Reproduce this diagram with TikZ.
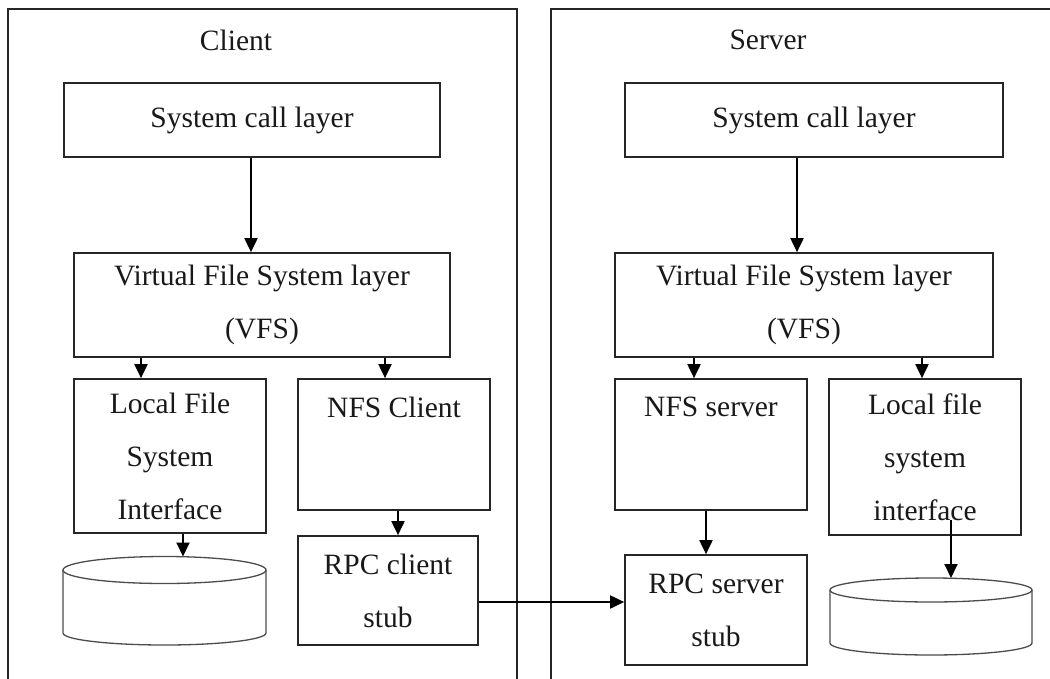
\documentclass[tikz,border=0pt]{standalone}
\usepackage{fontspec}
\setmainfont{Liberation Serif}
\usetikzlibrary{arrows.meta}
\begin{document}
\begin{tikzpicture}[x=1pt,y=-1pt,
  txt/.style={font=\fontsize{29.5}{53}\selectfont, text=black!90},
  box/.style={draw=black!85, line width=1.7pt, inner sep=0pt, align=center, txt},
  arr/.style={draw=black, line width=1.9pt, -{Triangle[length=14pt,width=13pt]}},
  frame/.style={draw=black!85, line width=1.7pt},
  cyl/.style={draw=black!70, line width=1.3pt}]
\clip (0,0) rectangle (1050,678);
\fill[white] (0,0) rectangle (1050,678);
% frames
\draw[frame] (8,700) -- (8,9) -- (517,9) -- (517,700);
\draw[frame] (551,700) -- (551,9) -- (1060,9);
\node[txt] (clientlbl) at (236,40) {Client};
\node[txt] (serverlbl) at (768,40) {Server};
% client boxes
\node[box, minimum width=376pt, minimum height=74pt] (scl) at (252,120) {System call layer};
\node[box, minimum width=376pt, minimum height=104pt] (vfsc) at (262,305) {Virtual File System layer\\(VFS)};
\node[box, minimum width=192pt, minimum height=154pt] (lfc) at (170,456) {Local File\\System\\Interface};
\node[box, minimum width=192pt, minimum height=131pt,
  label={[txt, anchor=north, yshift=-15pt]north:NFS Client}] (nfsc) at (394,444.5) {};
\node[box, minimum width=180pt, minimum height=109pt] (rpcc) at (388,590.5) {RPC client\\stub};
% server boxes
\node[box, minimum width=378pt, minimum height=74pt] (scs) at (814,120) {System call layer};
\node[box, minimum width=378pt, minimum height=104pt] (vfss) at (804,305) {Virtual File System layer\\(VFS)};
\node[box, minimum width=192pt, minimum height=131pt,
  label={[txt, anchor=north, yshift=-15pt]north:NFS server}] (nfss) at (711,444.5) {};
\node[box, minimum width=192pt, minimum height=156pt] (lfs) at (925,457) {Local file\\system\\interface};
\node[box, minimum width=182pt, minimum height=110pt] (rpcs) at (716,610) {RPC server\\stub};
% client disk
\draw[cyl, fill=white] (63,570) -- (63,633) arc[start angle=180, end angle=0, x radius=101.5, y radius=12] -- (266,570);
\draw[cyl, fill=white] (164.5,570) ellipse[x radius=101.5, y radius=13.5];
\coordinate (ccyl) at (183,556.5);
% server disk
\draw[cyl, fill=white] (830,590) -- (830,643) arc[start angle=180, end angle=0, x radius=101, y radius=12] -- (1032,590);
\draw[cyl, fill=white] (931,590) ellipse[x radius=101, y radius=12];
\coordinate (scyl) at (951,578);
\coordinate (stap) at (951,520);
% arrows
\draw[arr] (scl.south -| 251,0) -- (vfsc.north -| 251,0);
\draw[arr] (vfsc.south -| 141,0) -- (lfc.north -| 141,0);
\draw[arr] (vfsc.south -| 385,0) -- (nfsc.north -| 385,0);
\draw[arr] (nfsc.south -| 398,0) -- (rpcc.north -| 398,0);
\draw[arr] (lfc.south -| ccyl) -- (ccyl);
\draw[arr] (rpcc.east |- 0,602) -- (rpcs.west |- 0,602);
\draw[arr] (scs.south -| 797,0) -- (vfss.north -| 797,0);
\draw[arr] (vfss.south -| 694,0) -- (nfss.north -| 694,0);
\draw[arr] (vfss.south -| 922,0) -- (lfs.north -| 922,0);
\draw[arr] (nfss.south -| 706,0) -- (rpcs.north -| 706,0);
\draw[arr] (stap) -- (scyl);
\end{tikzpicture}
\end{document}
